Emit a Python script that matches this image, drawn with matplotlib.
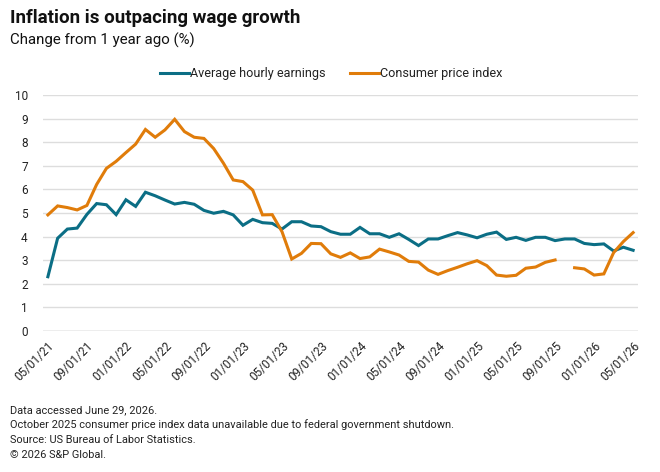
import numpy as np
import pandas as pd
import matplotlib
matplotlib.use('Agg')
import matplotlib.pyplot as plt
from matplotlib.lines import Line2D

plt.rcParams['font.family'] = ['Roboto', 'DejaVu Sans']

# monthly, 05/2021 .. 05/2026
months = pd.date_range('2021-05-01', periods=61, freq='MS')

ahe = [2.30, 3.93, 4.32, 4.36, 4.94, 5.40, 5.35, 4.93, 5.56, 5.28,
       5.88, 5.73, 5.55, 5.38, 5.45, 5.37, 5.11, 4.99, 5.07, 4.92,
       4.48, 4.73, 4.59, 4.56, 4.32, 4.63, 4.63, 4.45, 4.42, 4.21,
       4.10, 4.10, 4.39, 4.12, 4.12, 3.97, 4.12, 3.88, 3.62, 3.90,
       3.90, 4.04, 4.17, 4.07, 3.95, 4.10, 4.19, 3.88, 3.97, 3.84,
       3.97, 3.97, 3.83, 3.90, 3.90, 3.71, 3.66, 3.69, 3.39, 3.55,
       3.42]

# October 2025 missing (shutdown)
cpi = [4.92, 5.30, 5.23, 5.13, 5.32, 6.21, 6.89, 7.19, 7.56, 7.92,
       8.54, 8.21, 8.52, 8.97, 8.45, 8.21, 8.16, 7.73, 7.11, 6.40,
       6.33, 5.97, 4.92, 4.93, 4.21, 3.05, 3.29, 3.71, 3.70, 3.27,
       3.12, 3.31, 3.07, 3.14, 3.47, 3.35, 3.22, 2.95, 2.92, 2.58,
       2.40, 2.56, 2.70, 2.85, 2.98, 2.77, 2.37, 2.32, 2.36, 2.66,
       2.71, 2.91, 3.01, np.nan, 2.68, 2.63, 2.37, 2.42, 3.32, 3.79,
       4.17]

tick_labels = ['05/01/21', '09/01/21', '01/01/22', '05/01/22', '09/01/22',
               '01/01/23', '05/01/23', '09/01/23', '01/01/24', '05/01/24',
               '09/01/24', '01/01/25', '05/01/25', '09/01/25', '01/01/26',
               '05/01/26']

blue = '#0b6e85'
orange = '#e07c0a'
txt = '#222222'

fig = plt.figure(figsize=(6.6, 4.72), dpi=100)
ax = fig.add_axes([43 / 660, 141 / 472, 595 / 660, 236 / 472])

x = np.arange(len(months))
ax.plot(x, ahe, color=blue, lw=2.2, solid_joinstyle='miter')
ax.plot(x, cpi, color=orange, lw=2.2, solid_joinstyle='miter')

ax.set_xlim(-0.5, len(months) - 0.5)
ax.set_ylim(0, 10)
ax.set_yticks(range(0, 11))
ax.set_xticks(x[::4])
ax.set_xticklabels(tick_labels, rotation=45, ha='right', va='top',
                   rotation_mode='anchor', fontsize=8, color=txt)
ax.tick_params(axis='both', length=0, labelsize=8.5, colors=txt)
ax.tick_params(axis='y', pad=11)
ax.tick_params(axis='x', pad=6)

ax.grid(axis='y', color='#dddddd', lw=1)
ax.set_axisbelow(True)
for s in ax.spines.values():
    s.set_visible(False)
ax.axhline(0, color='#bbbbbb', lw=1, zorder=0)

fig.text(10 / 660, 1 - 18 / 472, 'Inflation is outpacing wage growth',
         fontsize=13.5, fontweight='bold', color='#111111', va='center')
fig.text(10 / 660, 1 - 40 / 472, 'Change from 1 year ago (%)',
         fontsize=10.8, color='#111111', va='center')

handles = [Line2D([], [], color=blue, lw=2.2),
           Line2D([], [], color=orange, lw=2.2)]
fig.legend(handles, ['Average hourly earnings', 'Consumer price index'],
           loc='center', bbox_to_anchor=(331 / 660, 1 - 74 / 472), ncol=2,
           frameon=False, fontsize=9.1, handlelength=2.3, handletextpad=0.1,
           columnspacing=1.9, labelcolor=txt)

notes = ['Data accessed June 29, 2026.',
         'October 2025 consumer price index data unavailable due to federal government shutdown.',
         'Source: US Bureau of Labor Statistics.',
         '\u00a9 2026 S&P Global.']
for i, n in enumerate(notes):
    fig.text(10 / 660, 1 - (410 + 15 * i) / 472, n, fontsize=7.9,
             color=txt, va='center')

fig.savefig('out.png', dpi=100)
